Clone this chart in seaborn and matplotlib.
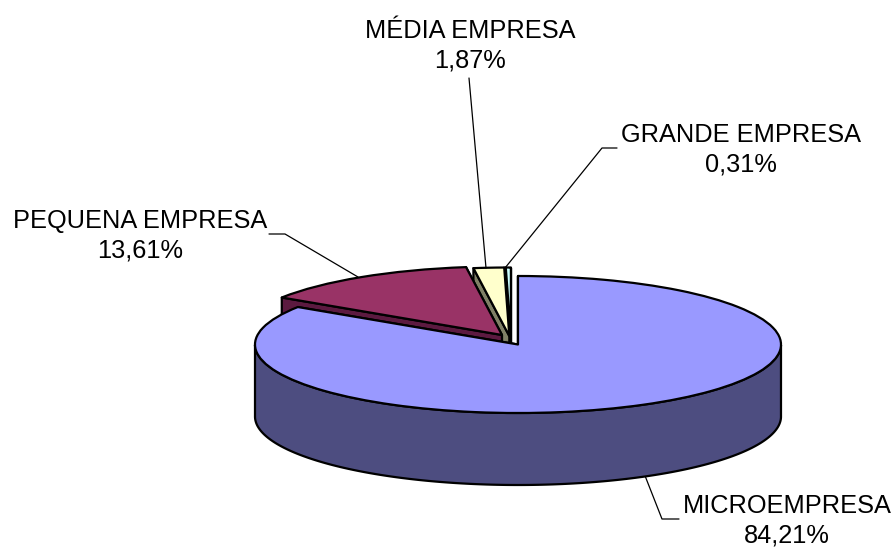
#!/usr/bin/env python3
# -*- coding: utf-8 -*-
"""3D style pie chart, companies by size"""

import seaborn as sns
import matplotlib.pyplot as plt
import numpy as np

# data
categories = ["MICROEMPRESA", "PEQUENA EMPRESA", "MÉDIA EMPRESA", "GRANDE EMPRESA"]
shares = [84.21, 13.61, 1.87, 0.31]

top_colors = ["#9999FF", "#993366", "#FFFFCC", "#CCFFFF"]
side_colors = ["#4D4D80", "#5C1A40", "#808066", "#668080"]

# slice offset from the pie centre, in pie units (x, y)
offsets = [(0.0, 0.0), (-0.061, 0.139), (-0.033, 0.124), (-0.027, 0.124)]

W, H = 891, 547
CX, CY = 518.0, 344.5   # centre of the pie, pixels
RX, RY = 263.0, 68.5    # pixels per pie unit
DEPTH = 72.0 / RY

sns.set_style("white")
plt.rcParams["font.family"] = ["Liberation Sans", "DejaVu Sans"]


def px(x, y):
    """pixel position of the picture -> axes data"""
    return (x - CX) / RX, (CY - y) / RY


def draw_slice(ax, share, start, color, side, off):
    """one slice: walls first, then the top. start is clockwise from 12 o'clock"""
    cx, cy = off
    frac = share / 100.0
    t = np.radians(np.linspace(start, start + 360.0 * frac, 400))
    rim_x = cx + np.sin(t)
    rim_y = cy + np.cos(t)
    kw = dict(facecolor=side, edgecolor="black", linewidth=1.6, joinstyle="round")

    # the two cut faces, the far one first
    for i in (-1, 0):
        ax.fill([cx, rim_x[i], rim_x[i], cx],
                [cy, rim_y[i], rim_y[i] - DEPTH, cy - DEPTH], **kw)

    # outer wall, only the part facing the viewer
    front = np.cos(t) <= 0
    if front.any():
        fx, fy = rim_x[front], rim_y[front]
        ax.fill(np.r_[fx, fx[::-1]], np.r_[fy, fy[::-1] - DEPTH], **kw)

    ax.pie([frac], normalize=False, colors=[color], center=(cx, cy), radius=1.0,
           startangle=90 - start, counterclock=False,
           wedgeprops=dict(edgecolor="black", linewidth=1.6, joinstyle="round"))


def main():
    fig = plt.figure(figsize=(W / 100, H / 100), dpi=100)
    ax = fig.add_axes([0, 0, 1, 1])

    # start angle of every slice
    starts = np.r_[0.0, np.cumsum(shares)[:-1]] * 3.6

    # back slices first, the big one covers their walls
    for i in [3, 2, 1, 0]:
        draw_slice(ax, shares[i], starts[i], top_colors[i], side_colors[i], offsets[i])

    ax.set_aspect("auto")
    x0, y0 = px(0, H)
    x1, y1 = px(W, 0)
    ax.set_xlim(x0, x1)
    ax.set_ylim(y0, y1)
    ax.axis("off")

    # leader lines
    leaders = [
        [(645.5, 477), (662, 519), (679, 519)],
        [(358, 277), (285, 234), (269, 234)],
        [(486, 268), (469, 78)],
        [(505, 268), (602, 148), (617, 148)],
    ]
    for pts in leaders:
        xy = np.array([px(*p) for p in pts])
        ax.plot(xy[:, 0], xy[:, 1], color="black", lw=0.9)

    # labels
    label_pos = [(787, 521), (140, 236), (470, 46), (741, 150)]
    for name, val, (x, y) in zip(categories, shares, label_pos):
        lx, ly = px(x, y)
        txt = f"{name}\n{val:.2f}%".replace(".", ",")
        ax.text(lx, ly, txt, ha="center", va="center", fontsize=18.3,
                linespacing=1.27, color="black")

    fig.savefig("out.png", dpi=100, facecolor="white")
    plt.close(fig)


if __name__ == "__main__":
    main()
